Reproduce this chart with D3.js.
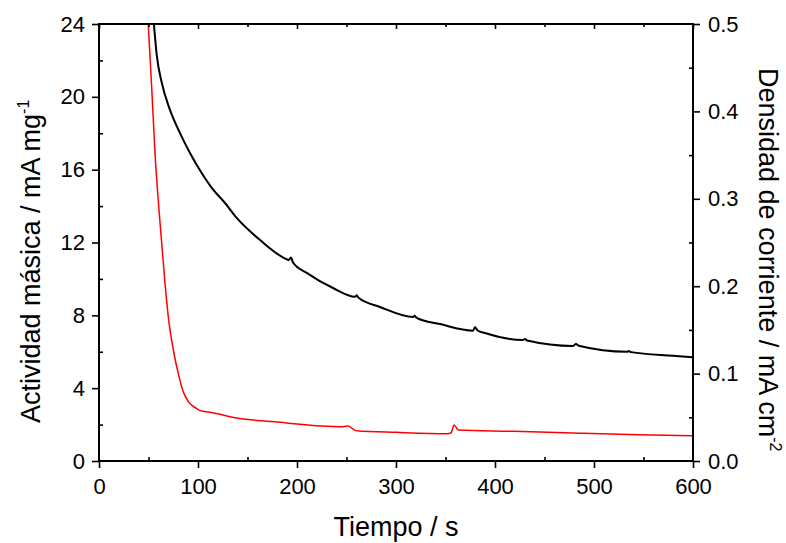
<!DOCTYPE html>
<html>
<head>
<meta charset="utf-8">
<script src="https://cdn.jsdelivr.net/npm/d3@7"></script>
<style>
  html, body { margin: 0; padding: 0; background: #fff; }
  svg text { font-family: "Liberation Sans", Arial, Helvetica, sans-serif; fill: #000; }
</style>
</head>
<body>
<svg id="chart" width="786" height="543"></svg>
<script>
// Chronoamperometry: mass activity (left axis, black) and current density (right axis, red)
const timeBlack = [54.5, 55.6, 58.3, 63.3, 71.7, 81.8, 91.9, 103.7, 115.5, 127.3, 139.1, 162.6,
  189.6, 191.6, 193.9, 196.0, 209.8, 236.4, 258.6, 260.3, 262.2, 283.8, 317.2, 318.9, 320.8,
  344.4, 377.8, 379.8, 382.5, 389.9, 428.3, 430.2, 432.5, 478.8, 481.8, 484.5, 533.3, 535.0, 537.5, 579.8, 600];
const massActivity = [24.6, 23.9, 22.3, 20.8, 19.28, 18.01, 16.92, 15.82, 14.89, 14.17, 13.35, 12.14,
  11.08, 11.04, 11.18, 10.9, 10.33, 9.50, 9.02, 9.10, 8.96, 8.46, 7.91, 7.98, 7.86,
  7.52, 7.16, 7.34, 7.17, 7.03, 6.65, 6.70, 6.62, 6.32, 6.43, 6.33, 6.00, 6.04, 5.98, 5.78, 5.70];

const timeRed = [49.3, 49.8, 53.2, 56.6, 60.9, 66.7, 70.0, 75.1, 80.1, 85.2, 90.2, 98.7, 102.0,
  112.1, 122.2, 132.3, 182.8, 246.8, 251.8, 256.0, 260.3, 300.7, 351.2, 355.5, 358.6, 363.0,
  418.5, 485.9, 545.0, 600];
const currentDensity = [0.51, 0.499, 0.428, 0.352, 0.283, 0.203, 0.165, 0.127, 0.100, 0.079, 0.068, 0.060, 0.0576,
  0.0557, 0.0534, 0.0507, 0.0442, 0.0393, 0.0400, 0.0370, 0.0347, 0.0328, 0.0313, 0.0320, 0.0412, 0.0355,
  0.0340, 0.0317, 0.0300, 0.0290];

const xTicks = [0, 100, 200, 300, 400, 500, 600];
const leftTicks = [0, 4, 8, 12, 16, 20, 24];
const rightTicks = [0.0, 0.1, 0.2, 0.3, 0.4, 0.5];

const svg = d3.select("#chart");
const L = 99, R = 693, T = 24, B = 461;

const x = d3.scaleLinear().domain([0, 600]).range([L, R]);
const yL = d3.scaleLinear().domain([0, 24]).range([B, T]);
const yR = d3.scaleLinear().domain([0, 0.5]).range([B, T]);

svg.append("clipPath").attr("id", "plot-clip")
  .append("rect").attr("x", L).attr("y", T).attr("width", R - L).attr("height", B - T);

const plot = svg.append("g").attr("clip-path", "url(#plot-clip)");

const redLine = d3.line()
  .x((d, i) => x(timeRed[i]))
  .y(d => yR(d))
  .curve(d3.curveMonotoneX);
plot.append("path")
  .datum(currentDensity)
  .attr("d", redLine)
  .attr("fill", "none")
  .attr("stroke", "#ff0000")
  .attr("stroke-width", 1.5);

const blackLine = d3.line()
  .x((d, i) => x(timeBlack[i]))
  .y(d => yL(d))
  .curve(d3.curveMonotoneX);
plot.append("path")
  .datum(massActivity)
  .attr("d", blackLine)
  .attr("fill", "none")
  .attr("stroke", "#000")
  .attr("stroke-width", 2);

// Axes: major ticks outward, minor ticks inward
function styleAxis(g) {
  g.select(".domain").remove();
  g.selectAll(".tick line").attr("stroke", "#000").attr("stroke-width", 1.6);
  g.selectAll(".tick text").style("font-size", "22px").attr("fill", "#000");
}

const fmtInt = d3.format("d");
const fmt1 = d3.format(".1f");

// bottom
svg.append("g").attr("transform", `translate(0,${B})`)
  .call(d3.axisBottom(x).tickValues(xTicks).tickFormat(fmtInt).tickSize(7).tickPadding(10))
  .call(styleAxis);
svg.append("g").attr("transform", `translate(0,${B})`)
  .call(d3.axisTop(x).tickValues(d3.range(50, 600, 100)).tickFormat("").tickSize(4))
  .call(styleAxis);
// top
svg.append("g").attr("transform", `translate(0,${T})`)
  .call(d3.axisBottom(x).tickValues(xTicks).tickFormat("").tickSize(5))
  .call(styleAxis);
svg.append("g").attr("transform", `translate(0,${T})`)
  .call(d3.axisBottom(x).tickValues(d3.range(50, 600, 100)).tickFormat("").tickSize(3))
  .call(styleAxis);
// left
svg.append("g").attr("transform", `translate(${L},0)`)
  .call(d3.axisLeft(yL).tickValues(leftTicks).tickFormat(fmtInt).tickSize(7).tickPadding(7))
  .call(styleAxis);
svg.append("g").attr("transform", `translate(${L},0)`)
  .call(d3.axisRight(yL).tickValues(d3.range(2, 24, 4)).tickFormat("").tickSize(4))
  .call(styleAxis);
// right
svg.append("g").attr("transform", `translate(${R},0)`)
  .call(d3.axisRight(yR).tickValues(rightTicks).tickFormat(fmt1).tickSize(7).tickPadding(8))
  .call(styleAxis);
svg.append("g").attr("transform", `translate(${R},0)`)
  .call(d3.axisLeft(yR).tickValues([0.05, 0.15, 0.25, 0.35, 0.45]).tickFormat("").tickSize(4))
  .call(styleAxis);

// frame
svg.append("rect")
  .attr("x", L).attr("y", T).attr("width", R - L).attr("height", B - T)
  .attr("fill", "none").attr("stroke", "#000").attr("stroke-width", 2);

// axis titles
svg.append("text")
  .attr("x", (L + R) / 2).attr("y", 536)
  .attr("text-anchor", "middle")
  .style("font-size", "27px")
  .text("Tiempo / s");

const leftTitle = svg.append("text")
  .attr("transform", "translate(40,423) rotate(-90)")
  .attr("text-anchor", "start")
  .style("font-size", "27px");
leftTitle.append("tspan").text("Actividad másica / mA mg");
leftTitle.append("tspan").attr("dy", -11).style("font-size", "16px").text("-1");

const rightTitle = svg.append("text")
  .attr("transform", "translate(759,68) rotate(90)")
  .attr("text-anchor", "start")
  .style("font-size", "27px");
rightTitle.append("tspan").text("Densidad de corriente / mA cm");
rightTitle.append("tspan").attr("dy", -11).style("font-size", "16px").text("-2");
</script>
</body>
</html>
